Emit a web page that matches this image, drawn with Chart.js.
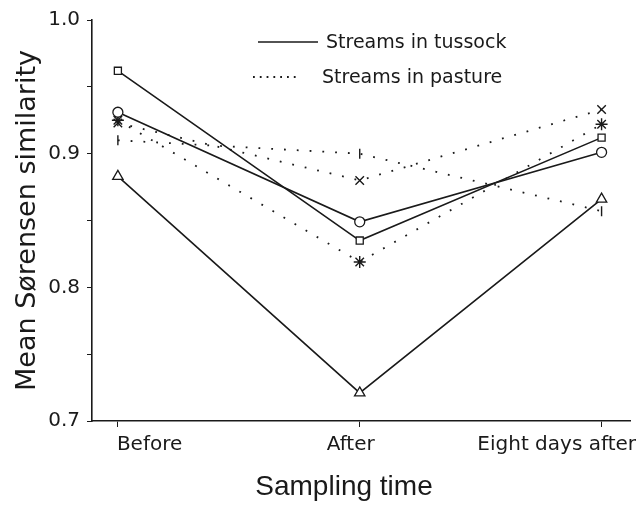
<!DOCTYPE html>
<html>
<head>
<meta charset="utf-8">
<script src="https://cdn.jsdelivr.net/npm/chart.js@4"></script>
<style>
  html, body { margin: 0; padding: 0; background: #fff; }
  #wrap { width: 638px; height: 512px; }
</style>
</head>
<body>
<div id="wrap"><canvas id="simChart" width="638" height="512"></canvas></div>
<script>
    // Sampling times and mean Sørensen similarity per stream
    const times = ['Before', 'After', 'Eight days after'];
    const yTicks = [0.7, 0.8, 0.9, 1.0];

    // streams in tussock (solid)
    const tussockSquare = [0.962, 0.835, 0.912];
    const tussockCircle = [0.931, 0.849, 0.901];
    const tussockTriangle = [0.883, 0.721, 0.866];

    // streams in pasture (dotted)
    const pastureStar = [0.925, 0.819, 0.922];
    const pastureCross = [0.923, 0.880, 0.933];
    const pastureBar = [0.910, 0.900, 0.857];

    const ink = '#1a1a1a';
    const sans = 'DejaVu Sans, Verdana, sans-serif';
    const arial = 'Liberation Sans, Arial, Helvetica, sans-serif';

    const pts = arr => arr.map((v, i) => ({ x: i, y: v }));

    function solid(data, style, radius) {
      return {
        data: pts(data), borderColor: ink, borderWidth: 1.6,
        pointStyle: style, pointRadius: radius, pointBorderWidth: 1.3,
        pointBackgroundColor: '#fff', pointBorderColor: ink, tension: 0
      };
    }
    function dotted(data, style, radius, rot) {
      return {
        data: pts(data), borderColor: ink, borderWidth: 1.8, borderDash: [1.8, 11],
        pointStyle: style, pointRadius: radius, pointBorderWidth: 1.4, pointRotation: rot || 0,
        pointBackgroundColor: '#fff', pointBorderColor: ink, tension: 0
      };
    }

    // legend key, x category labels (first flush left, last flush right) and x title
    const annotations = {
      id: 'annotations',
      afterDraw(chart) {
        const c = chart.ctx;
        const xs = chart.scales.x;
        c.save();
        c.strokeStyle = ink;
        c.fillStyle = ink;
        c.lineWidth = 1.6;
        c.beginPath(); c.moveTo(258, 42); c.lineTo(318, 42); c.stroke();
        c.setLineDash([1.8, 5]);
        c.lineWidth = 1.8;
        c.beginPath(); c.moveTo(253, 77); c.lineTo(300, 77); c.stroke();
        c.setLineDash([]);
        c.font = '19px ' + sans;
        c.textBaseline = 'middle';
        c.fillText('Streams in tussock', 326, 43);
        c.fillText('Streams in pasture', 322, 78);

        c.font = '20px ' + sans;
        c.textBaseline = 'top';
        const y = xs.top + 14;
        c.textAlign = 'left';
        c.fillText(times[0], xs.getPixelForValue(0) - 1, y);
        c.textAlign = 'center';
        c.fillText(times[1], xs.getPixelForValue(1) - 9, y);
        c.textAlign = 'right';
        c.fillText(times[2], 636, y);

        c.font = '28px ' + arial;
        c.textAlign = 'center';
        c.textBaseline = 'middle';
        c.fillText('Sampling time', 344, 487);
        c.restore();
      }
    };

    new Chart(document.getElementById('simChart').getContext('2d'), {
      type: 'line',
      data: {
        datasets: [
          solid(tussockSquare, 'rect', 5),
          solid(tussockCircle, 'circle', 5),
          solid(tussockTriangle, 'triangle', 6),
          dotted(pastureStar, 'star', 6),
          dotted(pastureCross, 'crossRot', 6),
          dotted(pastureBar, 'line', 5, 90)
        ]
      },
      options: {
        responsive: false,
        animation: false,
        layout: { padding: { top: 20, right: 6, left: 0, bottom: 0 } },
        plugins: { legend: { display: false }, tooltip: { enabled: false } },
        scales: {
          x: {
            type: 'linear', min: -0.107, max: 2.12,
            afterBuildTicks: s => { s.ticks = times.map((t, i) => ({ value: i })); },
            afterFit: s => { s.height = 91; s.paddingLeft = 0; s.paddingRight = 0; },
            ticks: { display: false },
            grid: { drawOnChartArea: false, color: ink, tickLength: 6, tickWidth: 1 },
            border: { color: ink, width: 1.6 }
          },
          y: {
            min: 0.7, max: 1.0,
            afterBuildTicks: s => {
              s.ticks = [0.7, 0.75, 0.8, 0.85, 0.9, 0.95, 1.0].map(v => ({ value: v }));
            },
            afterFit: s => { s.width = 92; },
            ticks: {
              color: ink, padding: 7,
              font: { family: sans, size: 20 },
              callback: v => {
                const hit = yTicks.find(t => Math.abs(t - v) < 1e-6);
                return hit === undefined ? '' : hit.toFixed(1);
              }
            },
            grid: { drawOnChartArea: false, color: ink, tickLength: 5, tickWidth: 1 },
            border: { color: ink, width: 1.6 },
            title: { display: true, text: 'Mean Sørensen similarity', color: ink,
                     padding: { top: 12, bottom: 4 },
                     font: { family: sans, size: 27 } }
          }
        }
      },
      plugins: [annotations]
    });
</script>
</body>
</html>
